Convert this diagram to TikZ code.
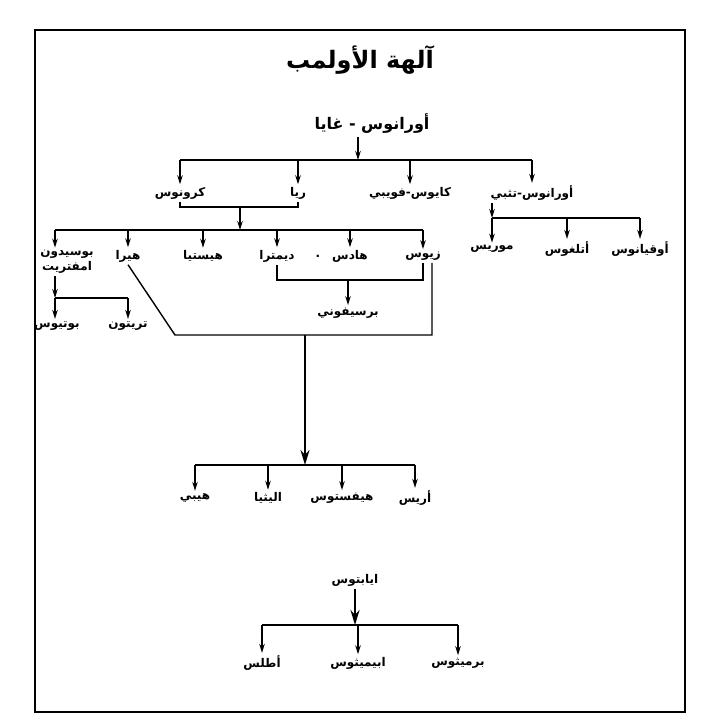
\documentclass[tikz,border=0pt]{standalone}
\usepackage{fontspec}
\newfontfamily\arabicfont[Script=Arabic]{DejaVu Sans}
\TeXXeTstate=1
\usetikzlibrary{arrows.meta}

\newcommand{\artxt}[1]{\beginR #1\endR}

\tikzset{
	god/.style={font=\arabicfont\bfseries\fontsize{12}{15}\selectfont, inner sep=2pt},
	arr/.style={-{Stealth[length=9pt,width=5.5pt]}},
	bigarr/.style={-{Stealth[length=15pt,width=9pt]}, line width=2.4pt},
}

\begin{document}
\begin{tikzpicture}[x=1pt,y=-1pt,line width=1.4pt]
	\useasboundingbox (0,0) rectangle (711,728);
%
	\draw[line width=1.6pt] (35,30) rectangle (685,712);
	\draw[line width=2.6pt] (35,712) -- (685,712);
%
	\node[god, font=\arabicfont\bfseries\fontsize{24}{28}\selectfont] (title) at (360,60) {\artxt{آلهة الأولمب}};
	\node[god, font=\arabicfont\bfseries\fontsize{16}{19}\selectfont] (uranus) at (372,124) {\artxt{أورانوس - غايا}};
%
	\node[god] (kronos) at (180,193) {\artxt{كرونوس}};
	\node[god] (rhea) at (298,193) {\artxt{ريا}};
	\node[god] (koios) at (410,193) {\artxt{كايوس-فويبي}};
	\node[god] (okeanos) at (532,193) {\artxt{أورانوس-تثبي}};
	\coordinate (b1) at (358,160);
	\draw[arr] (uranus.south -| b1) -- (b1);
	\draw (kronos.north |- b1) -- (okeanos.north |- b1);
	\foreach \g in {kronos,rhea,koios,okeanos}
		\draw[arr] (\g.north |- b1) -- (\g.north);
%
	\node[god] (moris) at (492,249) {\artxt{موريس}};
	\node[god] (atlag) at (567,249) {\artxt{أتلغوس}};
	\node[god] (okean) at (640,249) {\artxt{أوقيانوس}};
	\coordinate (b4) at (492,218);
	\draw[arr] (okeanos.south -| b4) -- (b4);
	\draw (moris.north |- b4) -- (okean.north |- b4);
	\foreach \g in {moris,atlag,okean}
		\draw[arr] (\g.north |- b4) -- (\g.north);
%
	\node[god, align=center] (poseidon) at (67,262) {\artxt{بوسيدون}\\\artxt{امفتريت}};
	\node[god] (hera) at (128,256) {\artxt{هيرا}};
	\node[god] (hestia) at (203,256) {\artxt{هيستيا}};
	\node[god] (demeter) at (277,256) {\artxt{ديمترا}};
	\node[god] (dot) at (318,256) {.};
	\node[god] (hades) at (350,256) {\artxt{هادس}};
	\node[god] (zeus) at (423,256) {\artxt{زيوس}};
	\coordinate (b2) at (240,207);
	\coordinate (b3) at (240,230);
	\coordinate (pdrop) at (55,230);
	\draw (pdrop) -- (zeus.north |- b3);
	\draw (kronos.south) -- (kronos.south |- b2) -- (rhea.south |- b2) -- (rhea.south);
	\draw[arr] (b2) -- (b3);
	\foreach \g in {hera,hestia,demeter,hades,zeus}
		\draw[arr] (\g.north |- b3) -- (\g.north);
	\draw[arr] (pdrop) -- (pdrop |- poseidon.north);
%
	\node[god] (potios) at (57,326) {\artxt{بوتيوس}};
	\node[god] (triton) at (128,326) {\artxt{تريتون}};
	\coordinate (b5) at (55,298);
	\draw[arr] (poseidon.south -| b5) -- (b5);
	\draw (b5) -- (triton.north |- b5);
	\draw[arr] (b5) -- (b5 |- potios.north);
	\draw[arr] (triton.north |- b5) -- (triton.north);
%
	\node[god] (persephone) at (348,313) {\artxt{برسيفوني}};
	\coordinate (b6) at (348,280);
	\draw (demeter.south) -- (demeter.south |- b6) -- (zeus.south |- b6) -- (zeus.south);
	\draw[arr] (b6) -- (persephone.north);
%
	\coordinate (b7) at (175,335);
	\coordinate (b8) at (432,335);
	\coordinate (b9) at (305,335);
	\coordinate (b10) at (305,465);
	\draw (hera.south) -- (b7) -- (b8) -- (b8 |- zeus.south);
	\draw[bigarr] (b9) -- (b10);
	\node[god] (hebe) at (195,498) {\artxt{هيبي}};
	\node[god] (ilithyia) at (268,498) {\artxt{اليثيا}};
	\node[god] (hephaestus) at (342,498) {\artxt{هيفستوس}};
	\node[god] (ares) at (415,498) {\artxt{أريس}};
	\draw (hebe.north |- b10) -- (ares.north |- b10);
	\foreach \g in {hebe,ilithyia,hephaestus,ares}
		\draw[arr] (\g.north |- b10) -- (\g.north);
%
	\node[god] (iapetus) at (355,580) {\artxt{ايابتوس}};
	\node[god] (atlas) at (262,663) {\artxt{أطلس}};
	\node[god] (epimetheus) at (358,663) {\artxt{ابيميثوس}};
	\node[god] (prometheus) at (458,663) {\artxt{برميثوس}};
	\coordinate (b11) at (355,625);
	\draw[bigarr] (iapetus.south) -- (b11);
	\draw (atlas.north |- b11) -- (prometheus.north |- b11);
	\foreach \g in {atlas,epimetheus,prometheus}
		\draw[arr] (\g.north |- b11) -- (\g.north);
\end{tikzpicture}
\end{document}
